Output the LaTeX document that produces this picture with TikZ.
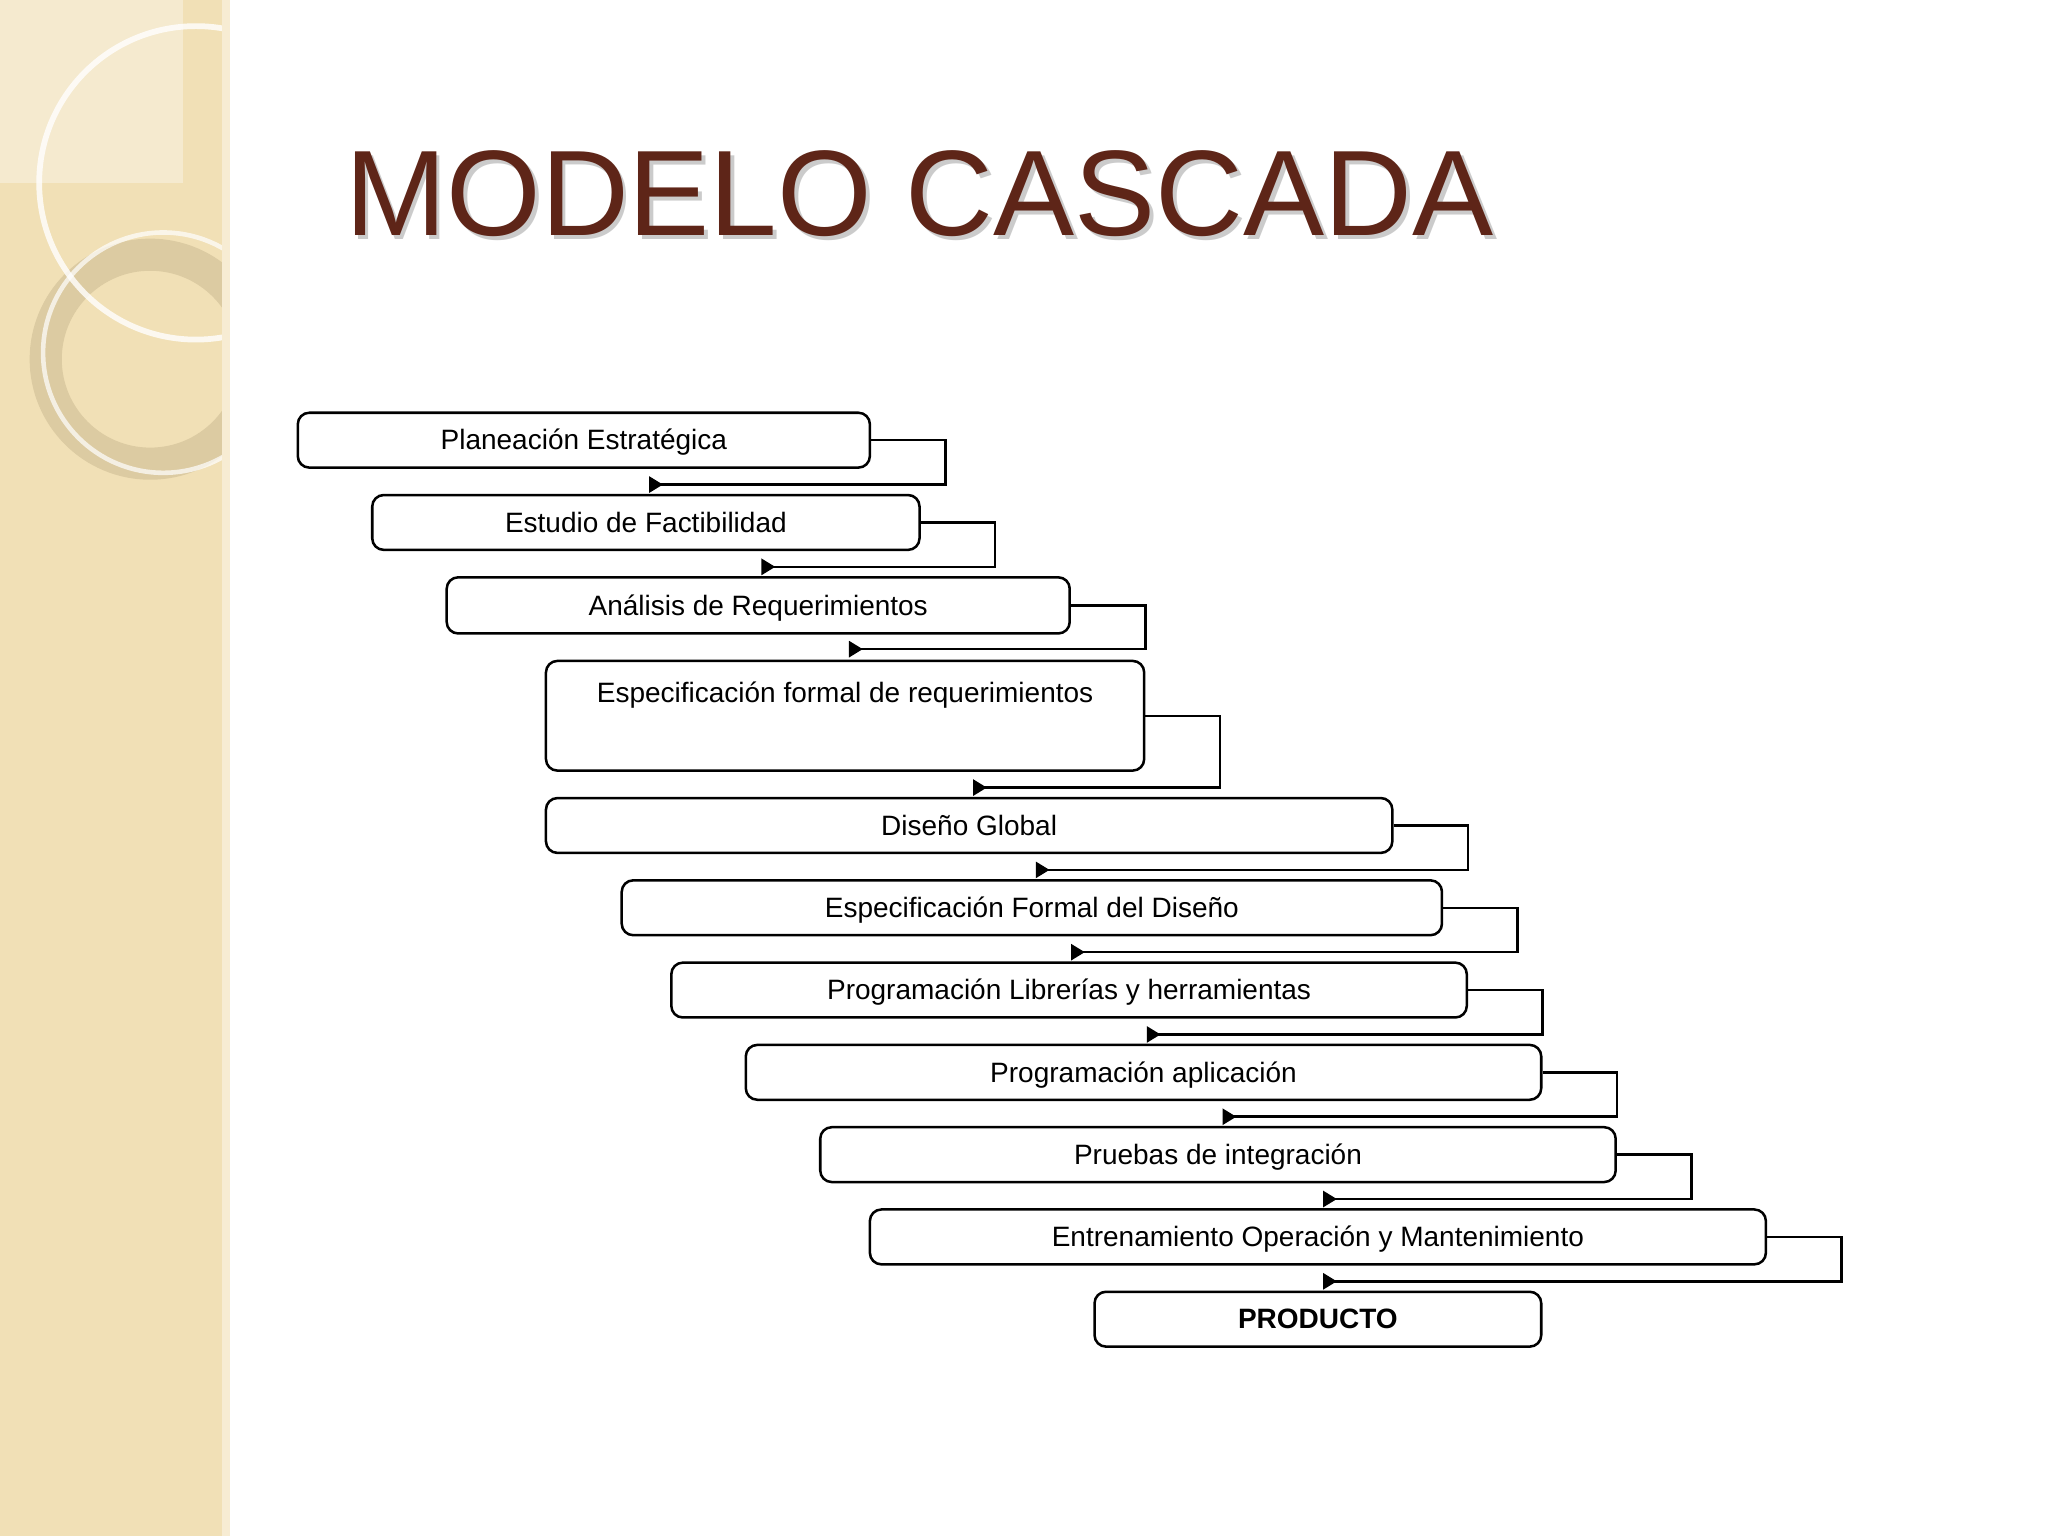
\documentclass[tikz,border=0pt]{standalone}
\usepackage{fontspec}
\setmainfont{Liberation Sans}
\usetikzlibrary{arrows.meta}
\definecolor{strip}{HTML}{F1E0B6}
\definecolor{ringc}{HTML}{DCCBA2}
\definecolor{titlec}{HTML}{5E2518}
\tikzset{
 box/.style={draw,line width=1.1pt,rounded corners=5pt,inner sep=0pt,text height=8.5pt,text depth=0pt,font=\fontsize{12.2}{14}\selectfont},
 conn/.style={line width=1.1pt,-{Triangle[reversed,length=6pt,width=7pt]}}
}
\newcommand\bx[6]{\node[box,minimum width={(#4-#2)*0.02cm},minimum height={(#5-#3)*0.02cm}] (#1) at ({(#2+#4)/2},{(#3+#5)/2}) {#6};}
\begin{document}
\begin{tikzpicture}[x=0.02cm,y=-0.02cm]
\useasboundingbox (0,0) rectangle (1568,1176);
\fill[white] (0,0) rectangle (1568,1176);
\begin{scope}
\clip (0,0) rectangle (173,1176);
\fill[strip] (0,0) rectangle (173,1176);
\fill[white,opacity=0.35] (0,0) rectangle (140,140);
\draw[ringc,line width=14pt] (115,275) circle (80);
\draw[white,line width=2.5pt,opacity=0.8] (150,140) circle (120);
\draw[white,line width=2pt,opacity=0.7] (125,270) circle (92);
\end{scope}
\fill[strip!60] (170,0) rectangle (176,1176);
\node[font=\fontsize{53}{56}\selectfont,text=black!40,opacity=0.5] at (707,151) {MODELO CASCADA};
\node[font=\fontsize{53}{56}\selectfont,text=titlec] (title) at (704,148) {MODELO CASCADA};
\bx{b1}{228}{316}{666}{358}{Planeación Estratégica}
\bx{b2}{285}{379}{704}{421}{Estudio de Factibilidad}
\bx{b3}{342}{442}{819}{485}{Análisis de Requerimientos}
\node[box,minimum width={458*0.02cm},minimum height={84*0.02cm}] (b4) at (647,548) {};
\node[font=\fontsize{12.2}{14}\selectfont] (b4t) at (647,532) {Especificación formal de requerimientos};
\bx{b5}{418}{611}{1066}{653}{Diseño Global}
\bx{b6}{476}{674}{1104}{716}{Especificación Formal del Diseño}
\bx{b7}{514}{737}{1123}{779}{Programación Librerías y herramientas}
\bx{b8}{571}{800}{1180}{842}{Programación aplicación}
\bx{b9}{628}{863}{1237}{905}{Pruebas de integración}
\bx{b10}{666}{926}{1352}{968}{Entrenamiento Operación y Mantenimiento}
\bx{b11}{838}{989}{1180}{1031}{\textbf{PRODUCTO}}
\coordinate (t2) at (497,371);
\coordinate (t3) at (583,434);
\coordinate (t4) at (650,497);
\coordinate (t5) at (745,603);
\coordinate (t6) at (793,666);
\coordinate (t7) at (820,729);
\coordinate (t8) at (878,792);
\coordinate (t9) at (936,855);
\coordinate (t10) at (1013,918);
\coordinate (t11) at (1013,981);
\foreach \a/\b in {b1/t2,b2/t3,b3/t4,b4/t5,b5/t6,b6/t7,b7/t8,b8/t9,b9/t10,b10/t11}
 \draw[conn] (\a.east) -- ++(57,0) |- (\b);
\end{tikzpicture}
\end{document}
